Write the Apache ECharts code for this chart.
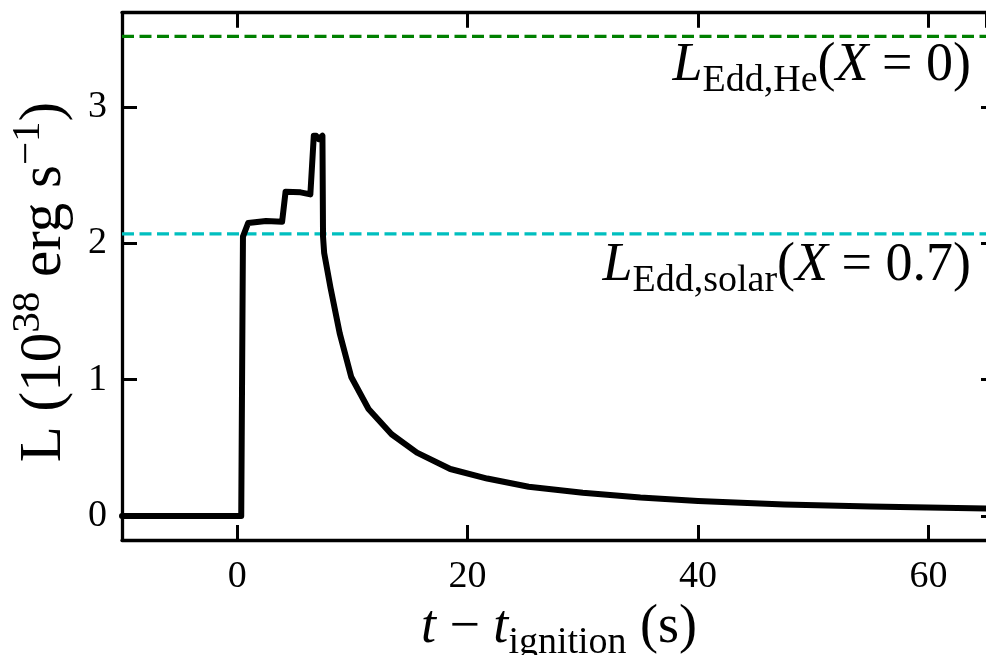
<!DOCTYPE html>
<html><head><meta charset="utf-8">
<script src="https://cdn.jsdelivr.net/npm/echarts@6/dist/echarts.min.js"></script>
<style>html,body{margin:0;padding:0;background:#fff}#main{width:986px;height:655px}</style>
</head><body><div id="main"></div>
<script>
// ---- data ----
const timeSec = [-10, 0.35, 0.5, 0.95, 2.5, 3.9, 4.2, 5.5, 6.35, 6.65, 6.85, 7.08, 7.4, 7.45, 7.55, 8.1, 8.9, 9.9, 11.4, 13.4, 15.6, 18.5, 21.7, 25.3, 30, 35, 40, 47.5, 55, 65];
const luminosity = [0, 0, 2.05, 2.15, 2.165, 2.16, 2.38, 2.375, 2.36, 2.79, 2.79, 2.765, 2.79, 2.05, 1.93, 1.675, 1.34, 1.02, 0.785, 0.60, 0.465, 0.345, 0.275, 0.215, 0.17, 0.135, 0.11, 0.085, 0.07, 0.055];
const eddHe = 3.52;      // L_Edd,He (X = 0)
const eddSolar = 2.07;   // L_Edd,solar (X = 0.7)
const xRange = [-10, 65];
const yRange = [-0.176, 3.693];
const xTicks = [0, 20, 40, 60];
const yTicks = [0, 1, 2, 3];

const FONT = 'Liberation Serif';
const curve = timeSec.map((t, i) => [t, luminosity[i]]);

const chart = echarts.init(document.getElementById('main'), null, {renderer: 'canvas'});

function axisBase(extra) {
  return Object.assign({
    type: 'value',
    axisLine: {show: true, onZero: false, lineStyle: {color: '#000', width: 3.3}},
    axisTick: {show: true, inside: true, length: 15, lineStyle: {color: '#000', width: 3}},
    splitLine: {show: false},
  }, extra);
}
const tickLabel = (list) => ({
  fontFamily: FONT, fontSize: 38, color: '#000',
  showMinLabel: false, showMaxLabel: false,
  formatter: v => list.includes(v) ? String(v) : ''
});

const M = 54, MX = 54, MY = 59;
function richSet(m) {
  const s = Math.round(m * 0.7);
  return {
    r: {fontFamily: FONT, fontSize: m, fill: '#000'},
    i: {fontFamily: FONT, fontSize: m, fontStyle: 'italic', fill: '#000'},
    sub: {fontFamily: FONT, fontSize: s, fill: '#000', padding: [Math.round(m * 0.56), 0, 0, 0]},
    sup: {fontFamily: FONT, fontSize: s, fill: '#000', padding: [0, 0, Math.round(m * 0.52), 0]}
  };
}

chart.setOption({
  animation: false,
  backgroundColor: '#fff',
  grid: {left: 122, top: 12.7, width: 875, height: 527.3},
  xAxis: [
    axisBase({position: 'bottom', min: xRange[0], max: xRange[1], minInterval: 20, maxInterval: 20,
      axisLabel: Object.assign({margin: 18}, tickLabel(xTicks))}),
    axisBase({position: 'top', min: xRange[0], max: xRange[1], minInterval: 20, maxInterval: 20,
      axisLabel: {show: false}})
  ],
  yAxis: [
    axisBase({position: 'left', min: yRange[0], max: yRange[1], minInterval: 1, maxInterval: 1,
      axisLabel: Object.assign({margin: 15}, tickLabel(yTicks))}),
    axisBase({position: 'right', offset: 10, min: yRange[0], max: yRange[1], minInterval: 1, maxInterval: 1,
      axisLabel: {show: false}})
  ],
  series: [
    {type: 'line', data: [[xRange[0], eddHe], [xRange[1], eddHe]], showSymbol: false, z: 2,
      lineStyle: {color: '#008000', width: 3.2, type: [12, 5.5]}, silent: true},
    {type: 'line', data: [[xRange[0], eddSolar], [xRange[1], eddSolar]], showSymbol: false, z: 2,
      lineStyle: {color: '#00BFBF', width: 3.2, type: [12, 5.5]}, silent: true},
    {type: 'line', data: curve, showSymbol: false, z: 3,
      lineStyle: {color: '#000', width: 6, join: 'round', cap: 'round'}, silent: true}
  ],
  graphic: [
    {type: 'text', x: 971, y: 66, z: 10, style: {
      text: '{i|L}{sub|Edd,He}{r|(}{i|X}{r| = 0)}', rich: richSet(M), align: 'right', verticalAlign: 'middle'}},
    {type: 'text', x: 971, y: 266, z: 10, style: {
      text: '{i|L}{sub|Edd,solar}{r|(}{i|X}{r| = 0.7)}', rich: richSet(M), align: 'right', verticalAlign: 'middle'}},
    {type: 'text', x: 559, y: 628, z: 10, style: {
      text: '{i|t}{r| − }{i|t}{sub|ignition}{r| (s)}', rich: richSet(MX), align: 'center', verticalAlign: 'middle'}},
    {type: 'text', x: 44, y: 282, rotation: Math.PI / 2, z: 10, style: {
      text: '{r|L (10}{sup|38}{r| erg s}{sup|−1}{r|)}', rich: richSet(MY), align: 'center', verticalAlign: 'middle'}}
  ]
});
</script>
</body></html>
